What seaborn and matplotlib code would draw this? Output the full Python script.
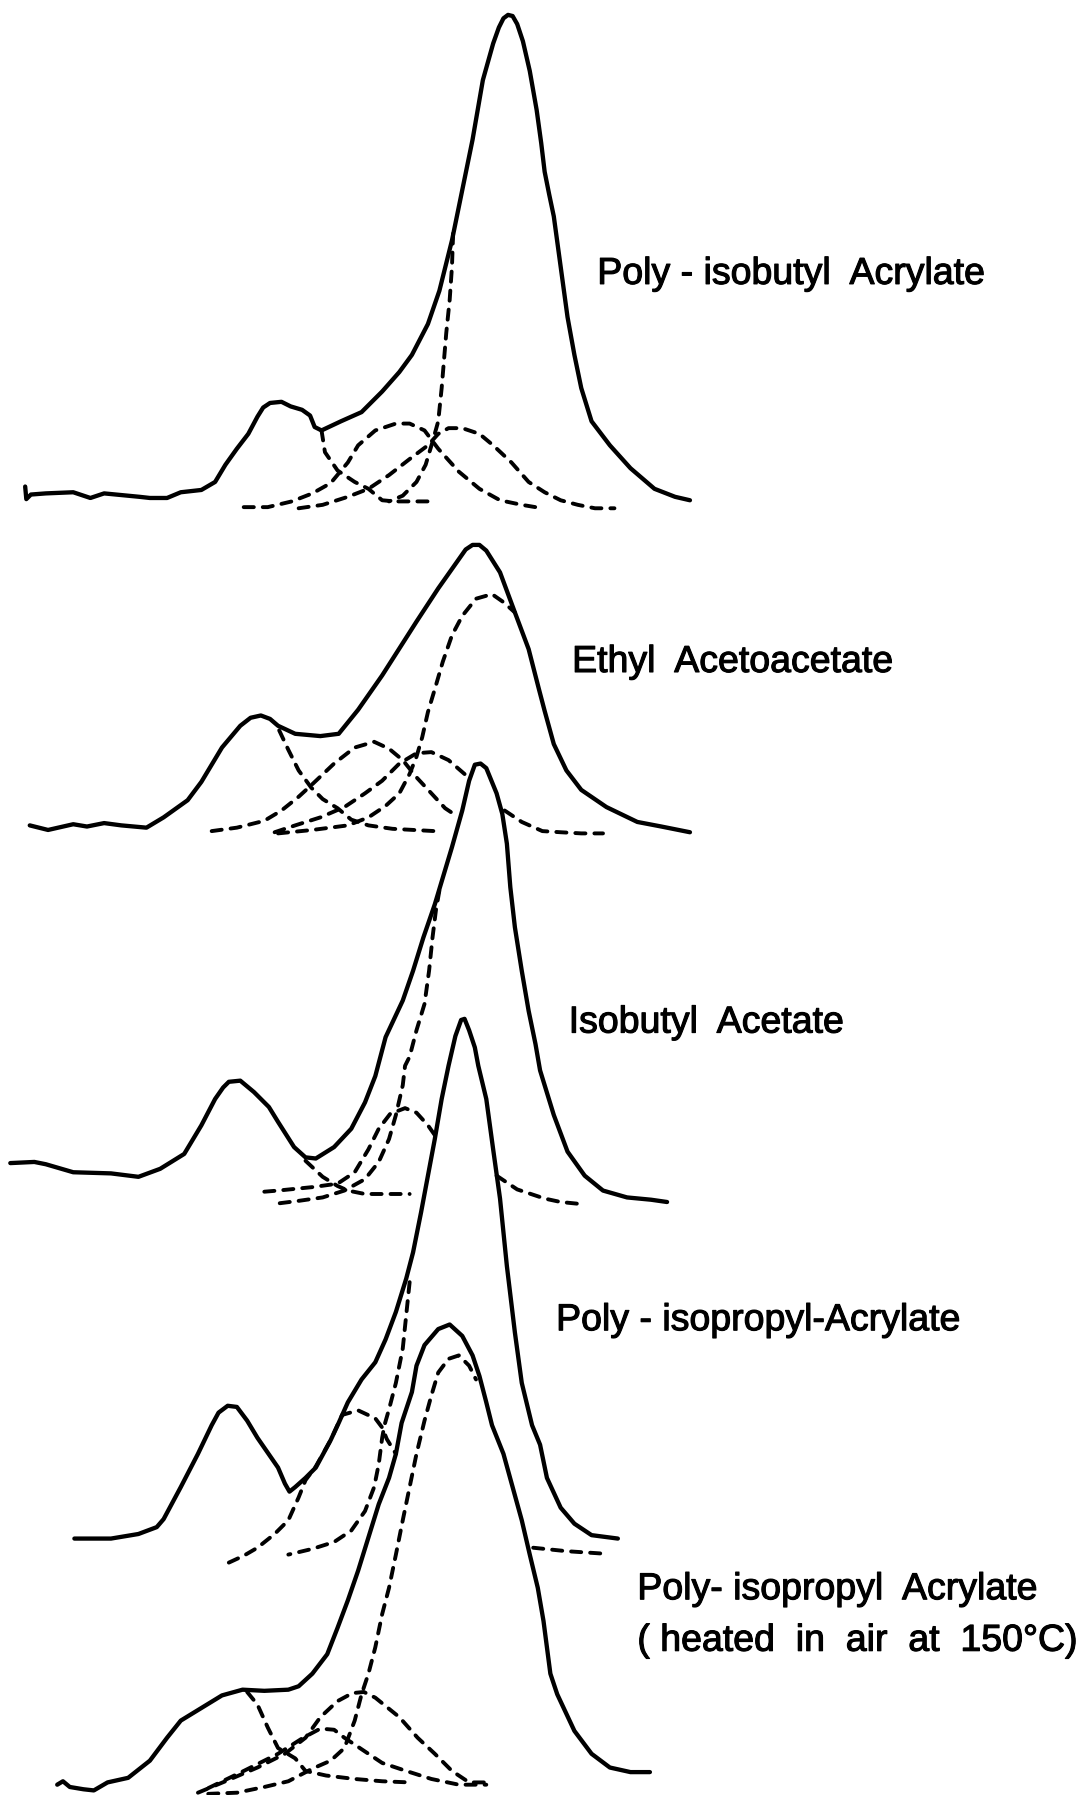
import matplotlib
matplotlib.use("Agg")
import matplotlib.pyplot as plt
import matplotlib.patheffects as pe
import seaborn as sns

# Hand-drawn absorption bands with their resolved components.
# Coordinates are on a 950 x 1568 sheet: x to the right, y downward.

# --- Poly-isobutyl Acrylate -------------------------------------------------
PIBA_TRACE = [(22, 425), (23, 436), (27, 432), (40, 431), (64, 430), (73, 433), (79, 435),
              (91, 431), (122, 434), (131, 435), (146, 435), (158, 430), (176, 428), (188, 421),
              (197, 406), (207, 392), (217, 379), (225, 364), (230, 356), (236, 352), (246, 351),
              (254, 355), (264, 358), (271, 363), (275, 373), (281, 376), (298, 368), (316, 360),
              (334, 342), (349, 325), (360, 310), (374, 283), (384, 254), (395, 210), (404, 166),
              (413, 122), (422, 70), (431, 38), (436, 24), (440, 16), (444, 13), (448, 14),
              (452, 21), (457, 36), (463, 62), (469, 96), (473, 125), (476, 150), (480, 170),
              (484, 189), (490, 233), (496, 277), (502, 310), (508, 339), (517, 368), (533, 389),
              (551, 409), (572, 427), (590, 434), (603, 437)]
PIBA_BAND_1 = [(281, 376), (284, 395), (295, 411), (310, 421), (322, 427), (334, 437),
               (345, 438), (378, 438)]
PIBA_BAND_2 = [(213, 443), (234, 443), (255, 438), (273, 431), (289, 422), (304, 404),
               (313, 389), (328, 376), (346, 370), (358, 370), (371, 376), (383, 392),
               (401, 412), (419, 427), (437, 437), (456, 441), (474, 444)]
PIBA_BAND_3 = [(261, 444), (282, 441), (304, 434), (322, 427), (340, 415), (358, 401),
               (374, 389), (383, 379), (392, 374), (404, 374), (419, 379), (431, 389),
               (447, 404), (462, 421), (476, 430), (490, 437), (505, 441), (520, 444), (537, 444)]
PIBA_BAND_4 = [(396, 204), (395, 233), (393, 262), (390, 291), (388, 315), (386, 339),
               (383, 368), (378, 386), (372, 406), (364, 421), (352, 433), (340, 438)]

# --- Ethyl Acetoacetate -----------------------------------------------------
EAA_TRACE = [(26, 721), (42, 725), (64, 720), (76, 722), (91, 719), (106, 721), (128, 723),
             (143, 714), (164, 699), (176, 683), (194, 653), (210, 634), (219, 627), (228, 625),
             (236, 628), (243, 634), (258, 641), (280, 643), (296, 641), (313, 620), (334, 590),
             (364, 543), (383, 514), (395, 497), (407, 480), (413, 476), (419, 476), (425, 481),
             (437, 500), (450, 535), (462, 567), (471, 602), (476, 621), (484, 650), (495, 673),
             (508, 690), (530, 705), (557, 718), (578, 722), (603, 727)]
EAA_BAND_1 = [(244, 638), (252, 655), (261, 673), (272, 688), (282, 698), (295, 706),
              (307, 716), (322, 721), (343, 724), (380, 726)]
EAA_BAND_2 = [(185, 726), (207, 723), (231, 717), (246, 708), (261, 696), (273, 685),
              (292, 667), (310, 653), (327, 648), (340, 654), (352, 664), (364, 679),
              (377, 693), (389, 706), (398, 712)]
EAA_BAND_3 = [(240, 727), (258, 721), (280, 714), (301, 705), (319, 693), (334, 682),
              (349, 667), (364, 658), (377, 657), (392, 664), (407, 677)]
EAA_BAND_3_TAIL = [(441, 708), (456, 718), (474, 726), (490, 727), (508, 728), (527, 728)]
EAA_BAND_4 = [(243, 728), (273, 725), (304, 721), (322, 714), (337, 704), (349, 693),
              (358, 676), (364, 661), (369, 644), (374, 622), (380, 602), (387, 578),
              (395, 555), (404, 538), (416, 523), (430, 519), (440, 526), (450, 535)]

# --- Isobutyl Acetate -------------------------------------------------------
IBA_TRACE = [(9, 1016), (30, 1015), (40, 1017), (64, 1024), (97, 1025), (121, 1028),
             (140, 1021), (161, 1008), (176, 983), (188, 960), (195, 950), (200, 945),
             (210, 944), (222, 954), (235, 967), (243, 980), (257, 1002), (267, 1011),
             (276, 1012), (292, 1002), (307, 986), (319, 963), (328, 940), (337, 906),
             (352, 874), (361, 848), (370, 819), (380, 790), (389, 760), (395, 740), (404, 708),
             (410, 682), (415, 668), (420, 667), (425, 671), (434, 693), (439, 711),
             (443, 737), (446, 775), (450, 810), (456, 848), (462, 883), (468, 912),
             (472, 935), (484, 974), (496, 1006), (511, 1027), (527, 1040), (548, 1046),
             (569, 1048), (583, 1050)]
IBA_BAND_1 = [(267, 1014), (282, 1028), (295, 1036), (304, 1040), (319, 1043), (358, 1043)]
IBA_BAND_2 = [(231, 1041), (243, 1040), (273, 1037), (295, 1034), (310, 1024), (322, 1004),
              (331, 986), (341, 973), (354, 968), (364, 972), (374, 983), (381, 993)]
IBA_BAND_2_TAIL = [(434, 1027), (452, 1039), (476, 1047), (490, 1050), (510, 1052)]
IBA_BAND_3 = [(384, 778), (381, 795), (378, 819), (375, 848), (371, 877), (364, 900),
              (358, 923), (354, 931), (352, 948), (346, 974), (340, 995), (331, 1015),
              (319, 1030), (301, 1040), (282, 1046), (261, 1049), (237, 1052)]

# --- Poly-isopropyl-Acrylate ------------------------------------------------
PIPA_TRACE = [(65, 1344), (79, 1344), (97, 1344), (121, 1340), (137, 1334), (143, 1327),
              (158, 1299), (173, 1270), (185, 1245), (191, 1234), (199, 1228), (207, 1229),
              (216, 1241), (225, 1256), (243, 1282), (249, 1296), (253, 1303), (258, 1299),
              (267, 1291), (276, 1282), (289, 1258), (296, 1243), (304, 1225), (316, 1205),
              (328, 1190), (337, 1170), (346, 1146), (355, 1117), (361, 1094), (368, 1059),
              (374, 1027), (380, 995), (386, 960), (392, 931), (398, 905), (403, 891),
              (406, 890), (410, 900), (415, 915), (418, 931), (425, 960), (431, 1004),
              (437, 1047), (443, 1106), (450, 1164), (456, 1208), (465, 1245), (472, 1262),
              (478, 1291), (490, 1317), (502, 1331), (517, 1341), (540, 1344)]
PIPA_BAND_1 = [(200, 1365), (213, 1359), (225, 1352), (240, 1340), (252, 1328), (261, 1308),
               (267, 1293), (276, 1281), (289, 1258), (299, 1236), (313, 1232), (328, 1239),
               (334, 1247), (338, 1257), (346, 1270)]
PIPA_BAND_2 = [(358, 1120), (355, 1149), (352, 1178), (346, 1208), (340, 1231), (336, 1245),
               (334, 1256), (331, 1279), (327, 1299), (319, 1320), (307, 1337), (292, 1347),
               (273, 1353), (252, 1358)]
PIPA_BAND_2_TAIL = [(466, 1352), (495, 1355), (525, 1357)]

# --- Poly-isopropyl Acrylate, heated in air at 150 C ------------------------
PIPAH_TRACE = [(50, 1559), (55, 1556), (61, 1561), (73, 1563), (82, 1564), (94, 1557),
               (112, 1553), (131, 1538), (146, 1518), (158, 1503), (176, 1492), (194, 1481),
               (212, 1476), (231, 1477), (252, 1476), (261, 1473), (273, 1462), (286, 1445),
               (295, 1422), (304, 1398), (313, 1372), (322, 1343), (331, 1314), (340, 1291),
               (346, 1270), (351, 1243), (360, 1216), (364, 1193), (371, 1175), (383, 1161),
               (393, 1157), (404, 1167), (413, 1184), (419, 1202), (425, 1225), (430, 1245),
               (440, 1270), (448, 1299), (456, 1328), (463, 1358), (470, 1387), (475, 1416),
               (481, 1462), (487, 1480), (502, 1512), (517, 1532), (533, 1544), (551, 1548),
               (568, 1548)]
PIPAH_BAND_1 = [(216, 1478), (225, 1489), (234, 1509), (243, 1527), (258, 1536), (267, 1547),
                (285, 1551), (310, 1554), (334, 1556), (358, 1557)]
PIPAH_BAND_2 = [(182, 1562), (213, 1547), (243, 1532), (265, 1518), (280, 1510), (292, 1511),
                (301, 1518), (319, 1530), (334, 1540), (355, 1547), (377, 1554), (401, 1559),
                (425, 1559)]
PIPAH_BAND_3 = [(173, 1566), (197, 1556), (225, 1544), (249, 1532), (267, 1518), (280, 1500),
                (295, 1486), (308, 1479), (318, 1478), (328, 1483), (349, 1500), (365, 1518),
                (380, 1532), (395, 1547), (410, 1557), (428, 1557)]
PIPAH_BAND_4 = [(182, 1567), (207, 1566), (231, 1561), (252, 1556), (273, 1545), (289, 1538),
                (301, 1527), (310, 1503), (316, 1480), (322, 1462), (328, 1439), (334, 1410),
                (340, 1387), (346, 1358), (352, 1328), (358, 1299), (364, 1270), (371, 1241),
                (377, 1219), (383, 1199), (392, 1187), (401, 1184), (410, 1193), (416, 1205)]

# Sample names and where they are lettered on the sheet
LABELS = ["Poly - isobutyl  Acrylate", "Ethyl  Acetoacetate", "Isobutyl  Acetate",
          "Poly - isopropyl-Acrylate", "Poly- isopropyl  Acrylate",
          "( heated  in  air  at  150°C)"]
LABEL_X = [522, 500, 497, 486, 557, 557]
LABEL_Y = [248, 587, 902, 1162, 1397, 1442]

TRACES = [PIBA_TRACE, EAA_TRACE, IBA_TRACE, PIPA_TRACE, PIPAH_TRACE]
BANDS = [PIBA_BAND_1, PIBA_BAND_2, PIBA_BAND_3, PIBA_BAND_4,
         EAA_BAND_1, EAA_BAND_2, EAA_BAND_3, EAA_BAND_3_TAIL, EAA_BAND_4,
         IBA_BAND_1, IBA_BAND_2, IBA_BAND_2_TAIL, IBA_BAND_3,
         PIPA_BAND_1, PIPA_BAND_2, PIPA_BAND_2_TAIL,
         PIPAH_BAND_1, PIPAH_BAND_2, PIPAH_BAND_3, PIPAH_BAND_4]

sns.set_theme(style="white")
plt.rcParams["font.family"] = ["Liberation Sans", "DejaVu Sans"]

fig = plt.figure(figsize=(10.87, 17.95), dpi=100)
ax = fig.add_axes([0, 0, 1, 1])
ax.set_xlim(0, 950)
ax.set_ylim(1568, 0)
ax.axis("off")


def draw(points, dashed):
    xs = [p[0] for p in points]
    ys = [p[1] for p in points]
    style = dict(color="black", solid_joinstyle="round", solid_capstyle="round")
    if dashed:
        style.update(lw=2.8, linestyle=(0, (2.6, 2.3)), dash_capstyle="round",
                     dash_joinstyle="round")
    else:
        style.update(lw=3.1, linestyle="-")
    sns.lineplot(x=xs, y=ys, sort=False, estimator=None, ax=ax, **style)


for band in BANDS:
    draw(band, dashed=True)
for trace in TRACES:
    draw(trace, dashed=False)

for text, x, y in zip(LABELS, LABEL_X, LABEL_Y):
    ax.text(x, y, text, ha="left", va="baseline", fontsize=27, color="black",
            path_effects=[pe.withStroke(linewidth=0.8, foreground="black")])

fig.savefig("out.png", dpi=100, facecolor="white")
